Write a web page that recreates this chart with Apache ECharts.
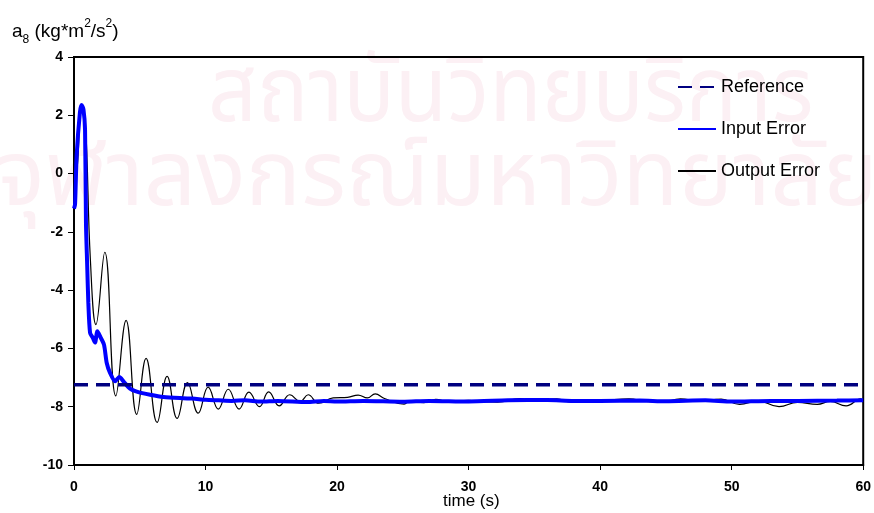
<!DOCTYPE html>
<html>
<head>
<meta charset="utf-8">
<script src="https://cdn.jsdelivr.net/npm/echarts@6/dist/echarts.min.js"></script>
<style>
html,body{margin:0;padding:0;background:#fff;}
#chart{width:874px;height:513px;}
</style>
</head>
<body>
<div id="chart"></div>
<script>
// ---- data ----
var xTicks = [0, 10, 20, 30, 40, 50, 60];
var yTicks = [4, 2, 0, -2, -4, -6, -8, -10];
var legendNames = ['Reference', 'Input Error', 'Output Error'];

var refTime = [0, 60];
var refValue = [-7.25, -7.25];

var inTime = [0, 0.08, 0.2, 0.45, 0.58, 0.72, 0.84, 0.91, 1.0, 1.09, 1.22, 1.42, 1.6, 1.78, 2.03, 2.28, 2.49, 2.74, 3.12, 3.45, 3.76, 4.26, 4.77, 5.79, 6.8, 8.3, 9.0, 10, 11, 12, 13, 14.2, 15.5, 17.7, 19, 20, 22, 25, 27, 30, 33, 36, 38, 40, 43, 45, 48, 50, 53, 55, 58, 60];
var inValue = [-1.2, -1.06, 0.6, 2.1, 2.35, 2.2, 1.5, -1.7, -3.1, -4.43, -5.46, -5.63, -5.8, -5.41, -5.63, -5.87, -6.5, -6.84, -7.13, -6.98, -7.13, -7.38, -7.48, -7.59, -7.67, -7.71, -7.72, -7.76, -7.78, -7.8, -7.78, -7.82, -7.8, -7.84, -7.8, -7.82, -7.8, -7.83, -7.8, -7.82, -7.78, -7.77, -7.8, -7.8, -7.79, -7.81, -7.78, -7.82, -7.8, -7.8, -7.79, -7.78];

var outTime = [0, 0.15, 0.58, 0.85, 1.25, 1.67, 2.34, 3.18, 3.96, 4.77, 5.48, 6.32, 7.08, 7.84, 8.63, 9.44, 10.2, 10.97, 11.73, 12.55, 13.3, 14.1, 14.8, 15.6, 16.4, 17.2, 17.8, 18.6, 19.7, 20.8, 21.6, 22.3, 22.9, 23.6, 25.1, 25.5, 26.6, 27.5, 28.5, 30, 31, 32.2, 33.9, 35, 36.7, 37.8, 39.4, 40.5, 42.2, 43.5, 44.7, 46.1, 47.5, 49.2, 50.6, 52, 53.6, 55, 56.5, 57.5, 58.7, 59.8, 60];
var outValue = [0, 0, 2.3, 1.9, -3.0, -5.18, -2.7, -7.63, -5.04, -8.26, -6.34, -8.54, -6.96, -8.4, -7.17, -8.22, -7.33, -8.08, -7.4, -8.08, -7.5, -8.0, -7.49, -7.97, -7.59, -7.82, -7.59, -7.88, -7.7, -7.68, -7.6, -7.7, -7.56, -7.72, -7.91, -7.8, -7.86, -7.75, -7.83, -7.78, -7.83, -7.84, -7.72, -7.8, -7.73, -7.84, -7.83, -7.78, -7.73, -7.82, -7.84, -7.73, -7.8, -7.74, -7.92, -7.8, -8.0, -7.85, -7.92, -7.82, -7.97, -7.73, -7.85];

function pairs(xs, ys) { return xs.map(function (x, i) { return [x, ys[i]]; }); }

var FONT = '"Liberation Sans", Arial, sans-serif';
var WM_FONT = '92px "Noto Sans Thai", "Noto Sans", "DejaVu Sans", sans-serif';
var chart = echarts.init(document.getElementById('chart'), null, {renderer: 'canvas'});
var option = {
  animation: false,
  backgroundColor: '#fff',
  grid: {left: 74, right: 10, top: 57, bottom: 48, show: true, borderColor: '#000', borderWidth: 2, backgroundColor: 'transparent'},
  graphic: [
    {type: 'text', x: 208, y: 56, scaleX: 0.93, z: -10, silent: true,
     style: {text: 'สถาบันวิทยบริการ', fill: '#fcf0f4', font: WM_FONT}},
    {type: 'text', x: -4, y: 140, z: -10, silent: true,
     style: {text: 'จุฬาลงกรณ์มหาวิทยาลัย', fill: '#fcf0f4', font: WM_FONT}},
    {type: 'text', left: 12, top: 18, z: 10,
     style: {text: '{n|a}{sub|8}{n| (kg*m}{sup|2}{n|/s}{sup|2}{n|)}',
       rich: {
         n: {fontSize: 19, fontFamily: FONT, fill: '#000', verticalAlign: 'middle', lineHeight: 28},
         sub: {fontSize: 12, fontFamily: FONT, fill: '#000', verticalAlign: 'bottom', lineHeight: 28},
         sup: {fontSize: 12, fontFamily: FONT, fill: '#000', verticalAlign: 'top', lineHeight: 28}
       }}},
    {type: 'text', left: 443, top: 493, z: 10,
     style: {text: 'time (s)', fontSize: 17, fontFamily: FONT, fill: '#000'}}
  ],
  legend: {
    orient: 'vertical', left: 672, top: 72, itemWidth: 38, itemHeight: 14, itemGap: 22,
    data: legendNames,
    itemStyle: {opacity: 0},
    textStyle: {fontSize: 18, fontFamily: FONT, color: '#000', lineHeight: 20}
  },
  xAxis: {
    type: 'value', min: 0, max: 60, interval: 10,
    axisLine: {show: true, onZero: false, lineStyle: {color: '#000', width: 2}},
    axisTick: {show: true, length: 5, lineStyle: {color: '#000', width: 1}},
    axisLabel: {fontSize: 14, fontWeight: 'bold', fontFamily: FONT, color: '#000', margin: 15,
      formatter: function (v) { return xTicks.indexOf(v) >= 0 ? String(v) : ''; }},
    splitLine: {show: false}
  },
  yAxis: {
    type: 'value', min: -10, max: 4, interval: 2,
    axisLine: {show: true, onZero: false, lineStyle: {color: '#000', width: 2}},
    axisTick: {show: true, length: 6, lineStyle: {color: '#000', width: 1}},
    axisLabel: {fontSize: 14, fontWeight: 'bold', fontFamily: FONT, color: '#000', margin: 11,
      formatter: function (v) { return yTicks.indexOf(v) >= 0 ? String(v) : ''; }},
    splitLine: {show: false}
  },
  series: [
    {name: 'Output Error', type: 'line', data: pairs(outTime, outValue), showSymbol: false, symbol: 'none',
     smooth: 0.45, lineStyle: {color: '#000', width: 1.2}, itemStyle: {color: '#000'}, z: 2},
    {name: 'Input Error', type: 'line', data: pairs(inTime, inValue), showSymbol: false, symbol: 'none',
     smooth: 0.25, lineStyle: {color: '#0000ff', width: 4}, itemStyle: {color: '#0000ff'}, z: 3},
    {name: 'Reference', type: 'line', data: pairs(refTime, refValue), showSymbol: false, symbol: 'none',
     lineStyle: {color: '#000080', width: 3.5, type: [14, 8]}, itemStyle: {color: '#000080'}, z: 4}
  ]
};
chart.setOption(option);
</script>
</body>
</html>
